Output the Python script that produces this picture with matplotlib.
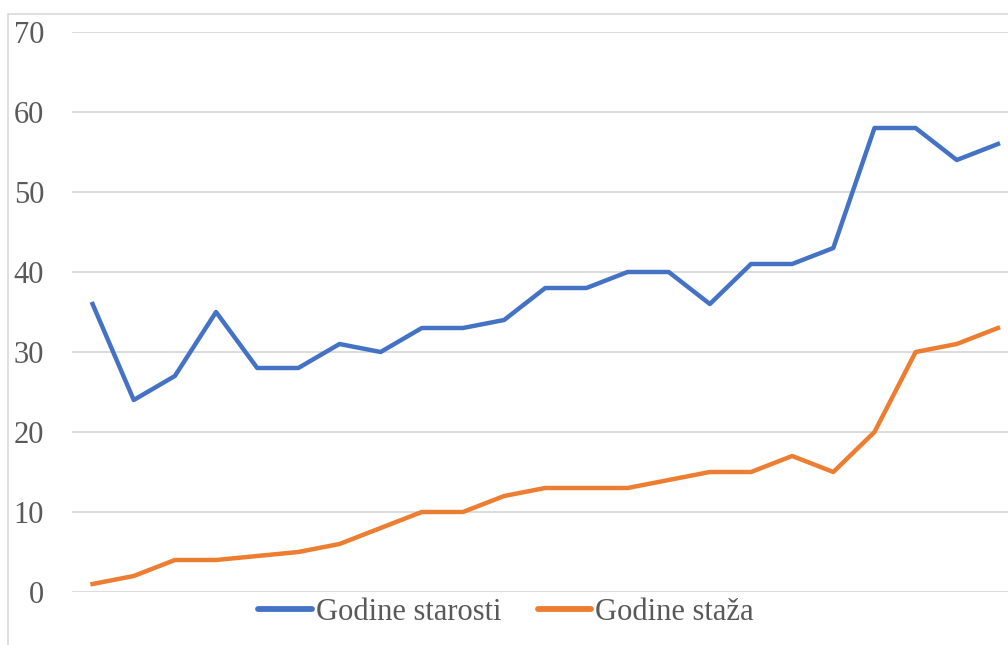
import matplotlib
matplotlib.use("Agg")
import matplotlib.pyplot as plt
from matplotlib.patches import Rectangle

starosti = [36, 24, 27, 35, 28, 28, 31, 30, 33, 33, 34, 38, 38, 40, 40, 36, 41, 41, 43, 58, 58, 54, 56]
staza = [1, 2, 4, 4, 4.5, 5, 6, 8, 10, 10, 12, 13, 13, 13, 14, 15, 15, 17, 15, 20, 30, 31, 33]
labels = ["Godine starosti", "Godine staža"]
yticks = [0, 10, 20, 30, 40, 50, 60, 70]

W, H = 1008, 645
fig = plt.figure(figsize=(W / 100, H / 100), dpi=100)
plt.rcParams['font.family'] = ['Liberation Serif', 'DejaVu Serif']

# chart border (extends beyond the crop)
fig.patches.append(Rectangle((8 / W, -0.1), 1.1, 1 - 14 / H + 0.1, transform=fig.transFigure,
                             fill=False, edgecolor='#d9d9d9', linewidth=1.2))

left = 72 / W
width = (1018.5 - 72) / W
bottom = (H - 592) / H
top = (H - 32) / H
ax = fig.add_axes([left, bottom, width, top - bottom])
ax.set_facecolor('none')
x = list(range(len(starosti)))
ax.plot(x, starosti, color='#4472C4', linewidth=3.2, label=labels[0], solid_joinstyle='round')
ax.plot(x, staza, color='#ED7D31', linewidth=3.2, label=labels[1], solid_joinstyle='round')
ax.set_xlim(-0.5, len(starosti) - 0.5)
ax.set_ylim(0, 70)
ax.set_yticks(yticks)
ax.set_yticklabels([str(v) for v in yticks], fontsize=22, color='#595959')
ax.tick_params(axis='y', length=0, pad=20)
ax.set_xticks([])
ax.grid(axis='y', color='#d9d9d9', linewidth=1.3)
ax.set_axisbelow(True)
for s in ax.spines.values():
    s.set_visible(False)

leg = fig.legend(loc='center', bbox_to_anchor=(506 / W, 1 - 612 / H), ncol=2, frameon=False,
                 fontsize=22, handlelength=1.75, handletextpad=0.12, columnspacing=1.2,
                 labelcolor='#595959')
for h in leg.legend_handles:
    h.set_linewidth(4.2)
    h.set_solid_capstyle('round')

fig.savefig('out.png', dpi=100)
